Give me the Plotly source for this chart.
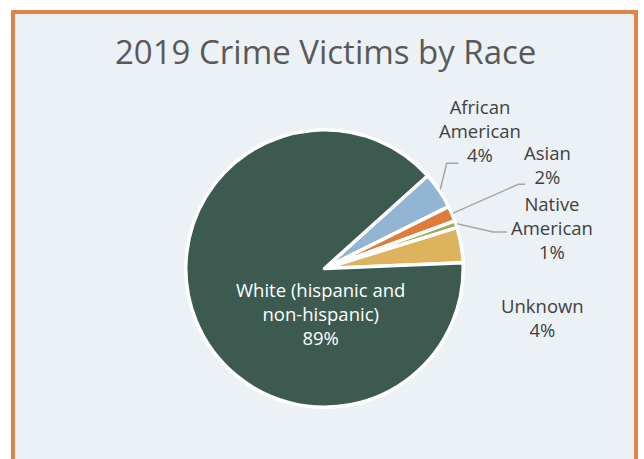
import math
import plotly.graph_objects as go

W, H = 644, 459

# ---- data ----
categories = ["African American", "Asian", "Native American", "Unknown", "White (hispanic and non-hispanic)"]
label_lines = [["African", "American"], ["Asian"], ["Native", "American"], ["Unknown"], ["White (hispanic and", "non-hispanic)"]]
values = [4.3, 1.8, 0.8, 4.1, 89.0]
colors = ["#92B5D3", "#E07B3D", "#9CAD5E", "#DDB35D", "#3C5A50"]

# ---- layout constants (pixels) ----
cx, cy = 324.5, 268.5
R = 138.7          # slice path radius
start_angle = 48.0  # clockwise from 12 o'clock

# label block centres (pixels) and text colours
label_pos = [(480, 131), (547, 164.5), (552, 227.5), (542.5, 317), (320, 313)]
label_col = ["#404040", "#404040", "#404040", "#404040", "#FFFFFF"]
# leader line elbow / end points (pixels); None = no leader line
leader_pts = [[(446.7, 163.3), (458.3, 163.3)],
              [(518.3, 184.3), (525.0, 184.3)],
              [(493.0, 232.0), (507.0, 232.0)],
              None, None]

def px(x):
    return x / W

def py(y):
    return 1 - y / H

total = sum(values)
pcts = [round(v / total * 100) for v in values]

fig = go.Figure()
fig.add_trace(go.Pie(
    labels=categories, values=values, sort=False, direction="clockwise",
    rotation=start_angle, textinfo="none", hoverinfo="label+percent",
    marker=dict(colors=colors, line=dict(color="#FFFFFF", width=3.5)),
    domain=dict(x=[px(cx - R), px(cx + R)], y=[py(cy + R), py(cy - R)]),
    showlegend=False,
))

shapes = [dict(type="rect", xref="paper", yref="paper",
               x0=px(13), x1=px(636), y0=py(475), y1=py(12),
               line=dict(color="#DF8349", width=4), fillcolor="#ECF1F6", layer="below")]

# leader lines from slice mid-angles
acc = 0.0
for i, v in enumerate(values):
    mid = start_angle + (acc + v / 2) / total * 360
    acc += v
    if leader_pts[i] is None:
        continue
    a = math.radians(mid)
    sx, sy = cx + 140 * math.sin(a), cy - 140 * math.cos(a)
    pts = [(sx, sy)] + leader_pts[i]
    path = "M " + " L ".join(f"{px(x)},{py(y)}" for x, y in pts)
    shapes.append(dict(type="path", xref="paper", yref="paper", path=path,
                       line=dict(color="#A6A6A6", width=1.5), layer="above"))

annotations = []
for i in range(len(categories)):
    txt = "<br>".join(label_lines[i] + [f"{pcts[i]}%"])
    x, y = label_pos[i]
    annotations.append(dict(text=txt, x=px(x), y=py(y), xref="paper", yref="paper",
                            showarrow=False, xanchor="center", yanchor="middle",
                            font=dict(family="Open Sans", size=18.5, color=label_col[i])))

annotations.append(dict(text="2019 Crime Victims by Race", x=px(325), y=py(52),
                        xref="paper", yref="paper", showarrow=False,
                        xanchor="center", yanchor="middle",
                        font=dict(family="Open Sans", size=33, color="#595959")))

fig.update_layout(width=W, height=H, margin=dict(l=0, r=0, t=0, b=0),
                  paper_bgcolor="#FFFFFF", shapes=shapes, annotations=annotations)

fig.write_html("out.html")
